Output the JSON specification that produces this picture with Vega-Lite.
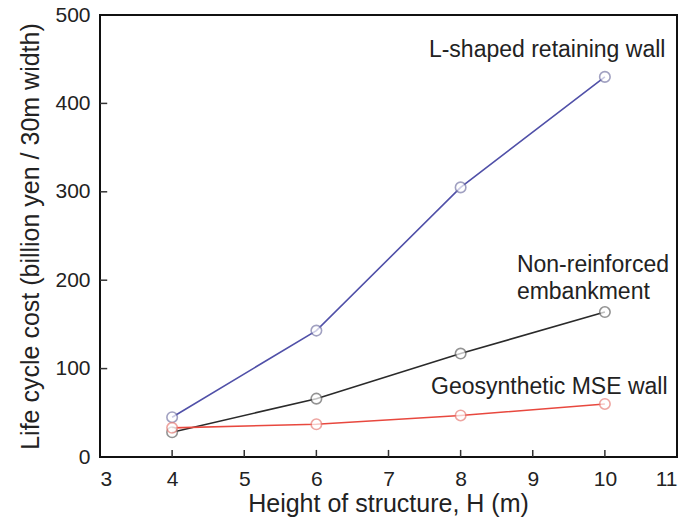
{
  "$schema": "https://vega.github.io/schema/vega-lite/v6.json",
  "autosize": {"type": "none"},
  "padding": {"left": 100, "top": 15, "right": 8, "bottom": 72},
  "width": 577,
  "height": 442,
  "background": "white",
  "config": {
    "view": {"stroke": "#111", "strokeWidth": 2},
    "font": "Liberation Sans",
    "axis": {
      "grid": false,
      "ticks": false,
      "tickSize": 0,
      "domain": false,
      "labelFont": "Liberation Sans",
      "labelFontSize": 21,
      "labelColor": "#222",
      "titleFont": "Liberation Sans",
      "titleFontSize": 25,
      "titleFontWeight": "normal",
      "titleColor": "#222"
    }
  },
  "datasets": {
    "series": [
      {"H": 4, "cost": 45, "type": "L-shaped retaining wall"},
      {"H": 6, "cost": 143, "type": "L-shaped retaining wall"},
      {"H": 8, "cost": 305, "type": "L-shaped retaining wall"},
      {"H": 10, "cost": 430, "type": "L-shaped retaining wall"},
      {"H": 4, "cost": 28, "type": "Non-reinforced embankment"},
      {"H": 6, "cost": 66, "type": "Non-reinforced embankment"},
      {"H": 8, "cost": 117, "type": "Non-reinforced embankment"},
      {"H": 10, "cost": 164, "type": "Non-reinforced embankment"},
      {"H": 4, "cost": 33, "type": "Geosynthetic MSE wall"},
      {"H": 6, "cost": 37, "type": "Geosynthetic MSE wall"},
      {"H": 8, "cost": 47, "type": "Geosynthetic MSE wall"},
      {"H": 10, "cost": 60, "type": "Geosynthetic MSE wall"}
    ],
    "labels": [
      {"H": 7.56, "cost": 460, "text": "L-shaped retaining wall"},
      {"H": 8.78, "cost": 217, "text": "Non-reinforced"},
      {"H": 8.78, "cost": 187, "text": "embankment"},
      {"H": 7.59, "cost": 79, "text": "Geosynthetic MSE wall"}
    ],
    "xticks": [{"v": 4}, {"v": 5}, {"v": 6}, {"v": 7}, {"v": 8}, {"v": 9}, {"v": 10}],
    "yticks": [{"v": 100}, {"v": 200}, {"v": 300}, {"v": 400}]
  },
  "layer": [
    {
      "data": {"name": "xticks"},
      "mark": {"type": "rule", "color": "#333", "strokeWidth": 1.5},
      "encoding": {
        "x": {"field": "v", "type": "quantitative", "scale": {"domain": [3, 11], "nice": false}, "axis": {"values": [3,4,5,6,7,8,9,10,11], "format": "d", "title": "Height of structure, H (m)", "labelPadding": 11, "titleX": 288, "titleY": 54, "titleBaseline": "alphabetic", "titleAnchor": "middle"}},
        "y": {"datum": 0, "type": "quantitative", "scale": {"domain": [0, 500], "nice": false}, "axis": {"values": [0,100,200,300,400,500], "format": "d", "title": "Life cycle cost (billion yen / 30m width)", "labelPadding": 10, "titleX": -70, "titleY": 221, "titleBaseline": "middle", "titleAnchor": "middle"}},
        "y2": {"datum": 8}
      }
    },
    {
      "data": {"name": "yticks"},
      "mark": {"type": "rule", "color": "#333", "strokeWidth": 1.5},
      "encoding": {
        "y": {"field": "v", "type": "quantitative"},
        "x": {"datum": 3, "type": "quantitative"},
        "x2": {"datum": 3.1}
      }
    },
    {
      "data": {"name": "series"},
      "mark": {"type": "line", "strokeWidth": 1.6},
      "encoding": {
        "x": {"field": "H", "type": "quantitative"},
        "y": {"field": "cost", "type": "quantitative"},
        "color": {"field": "type", "type": "nominal", "legend": null, "scale": {"domain": ["L-shaped retaining wall", "Non-reinforced embankment", "Geosynthetic MSE wall"], "range": ["#5050a8", "#2a2a2a", "#e8483e"]}},
        "order": {"field": "H"}
      }
    },
    {
      "data": {"name": "series"},
      "mark": {"type": "point", "filled": true, "fill": "white", "size": 110, "strokeWidth": 1.6},
      "encoding": {
        "x": {"field": "H", "type": "quantitative"},
        "y": {"field": "cost", "type": "quantitative"},
        "stroke": {"field": "type", "type": "nominal", "legend": null, "scale": {"domain": ["L-shaped retaining wall", "Non-reinforced embankment", "Geosynthetic MSE wall"], "range": ["#7a7aa8", "#666666", "#e8807a"]}}
      }
    },
    {
      "data": {"name": "labels"},
      "mark": {"type": "text", "align": "left", "baseline": "middle", "fontSize": 23, "font": "Liberation Sans", "color": "#222"},
      "encoding": {
        "x": {"field": "H", "type": "quantitative"},
        "y": {"field": "cost", "type": "quantitative"},
        "text": {"field": "text"}
      }
    }
  ],
  "resolve": {"scale": {"color": "independent"}}
}
